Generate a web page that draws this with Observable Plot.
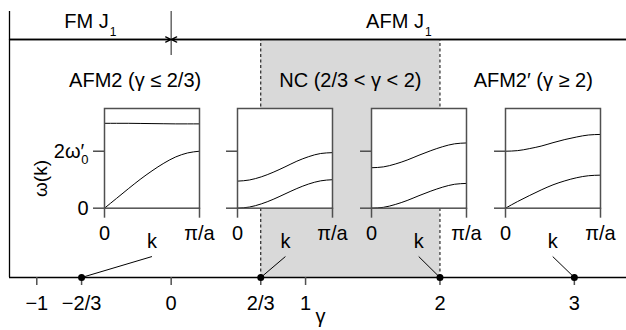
<!DOCTYPE html>
<html><head><meta charset="utf-8">
<script src="https://cdn.jsdelivr.net/npm/d3@7"></script>
<script src="https://cdn.jsdelivr.net/npm/@observablehq/plot@0.6"></script>
<style>
body{margin:0;background:#fff;}
#wrap{position:relative;width:626px;height:330px;overflow:hidden;background:#fff;}
#wrap svg{position:absolute;overflow:visible;background:transparent;}
</style></head><body><div id="wrap"></div>
<script>
// ---------- data ----------
const gammaTicks = [-1, -2/3, 0, 2/3, 1, 2, 3];
const gammaTickLabels = ["−1", "−2/3", "0", "2/3", "1", "2", "3"];
const fmAfmBoundary = 0;
const ncRange = [2/3, 2];
const regionLabels = ["FM J1", "AFM J1"];
const phaseTitles = ["AFM2 (γ ≤ 2/3)", "NC (2/3 < γ < 2)", "AFM2′ (γ ≥ 2)"];
const panelGammas = [-2/3, 2/3, 2, 3];
const yAxisTitle = "ω(k)";

// dispersion curves, k in units of π/a, ω in units of ω0′
const kFrac = [0, 0.125, 0.25, 0.375, 0.5, 0.625, 0.75, 0.875, 1];
const p1Lower = [0, 0.34, 0.68, 1.01, 1.31, 1.58, 1.80, 1.94, 2.0];
const p1Upper = [2.98, 2.98, 2.98, 2.975, 2.97, 2.965, 2.96, 2.96, 2.96];
const p2Lower = [0, 0.04, 0.15, 0.31, 0.5, 0.69, 0.85, 0.96, 1.0];
const p2Upper = [0.95, 0.99, 1.10, 1.26, 1.45, 1.65, 1.81, 1.92, 1.95];
const p3Lower = [0, 0.03, 0.13, 0.27, 0.44, 0.60, 0.74, 0.84, 0.87];
const p3Upper = [1.42, 1.45, 1.55, 1.69, 1.86, 2.02, 2.16, 2.26, 2.29];
const p4Lower = [0, 0.23, 0.44, 0.64, 0.82, 0.96, 1.07, 1.14, 1.16];
const p4Upper = [2.0, 2.02, 2.09, 2.18, 2.30, 2.41, 2.50, 2.57, 2.59];
const insetYTicks = [0, 2];
const insetYTickLabels = ["0", "2ω′0"];
const insetXTicks = [0, 1];
const insetXTickLabels = ["0", "π/a"];

// ---------- layout ----------
const FONT = '"Liberation Sans", Arial, Helvetica, sans-serif';
const FS = 20;
const GRAY = "#505050";
const X_DOMAIN = [-1.203, 3.388];
const panelCenters = [-0.143, 0.850, 1.842, 2.839];
const panels = [[p1Lower, p1Upper], [p2Lower, p2Upper], [p3Lower, p3Upper], [p4Lower, p4Upper]];
const mid = (a, b) => (a + b) / 2;
const regionCenters = [mid(X_DOMAIN[0], fmAfmBoundary), mid(fmAfmBoundary, X_DOMAIN[1])];
const titleCenters = [mid(X_DOMAIN[0], ncRange[0]), mid(ncRange[0], ncRange[1]), mid(ncRange[1], X_DOMAIN[1])];

const wrap = document.getElementById("wrap");

const main = Plot.plot({
  width: 626, height: 330,
  marginLeft: 9, marginRight: 0, marginTop: 39, marginBottom: 53,
  x: {domain: X_DOMAIN},
  y: {domain: [0, 1], axis: null},
  style: {fontFamily: FONT, fontSize: FS + "px", background: "transparent", color: "#000"},
  marks: [
    Plot.rect([ncRange], {x1: d => d[0], x2: d => d[1], y1: 0, y2: 1, fill: "#d9d9d9"}),
    Plot.ruleX(ncRange, {x: d => d, y1: 0, y2: 1, stroke: "#000", strokeWidth: 1, strokeDasharray: "3,2.5"}),
    Plot.ruleY([0, 1], {y: d => d, stroke: "#000", strokeWidth: 1.3}),
    Plot.ruleX([X_DOMAIN[0]], {x: d => d, y1: 0, y2: 1.118, stroke: "#000", strokeWidth: 1.3}),
    Plot.ruleX([fmAfmBoundary], {x: d => d, y1: 0.933, y2: 1.118, stroke: GRAY, strokeWidth: 1.3}),
    Plot.arrow([{a: X_DOMAIN[0]}, {a: X_DOMAIN[1]}], {x1: "a", x2: () => fmAfmBoundary, y1: () => 1, y2: () => 1, headLength: 7, headAngle: 50, strokeWidth: 1.3, stroke: "#000"}),
    Plot.axisX(gammaTicks, {tickFormat: d => gammaTickLabels[gammaTicks.indexOf(d)], tickSize: 8, tickPadding: 10, stroke: GRAY, strokeWidth: 1.5, fill: "#000", fontSize: FS, label: null}),
    Plot.link(panelGammas, {x1: (d, i) => panelCenters[i], y1: () => 0.088, x2: d => d, y2: () => 0, stroke: "#000", strokeWidth: 1}),
    Plot.dot(panelGammas, {x: d => d, y: () => 0, r: 3.5, fill: "#000", stroke: null}),
    Plot.text(panelGammas, {x: (d, i) => panelCenters[i], y: () => 0.149, text: () => "k", fontSize: FS}),
    Plot.text(regionLabels, {x: (d, i) => regionCenters[i], y: () => 1.077, text: d => d, fontSize: FS}),
    Plot.text(phaseTitles, {x: (d, i) => titleCenters[i], y: () => 0.829, text: d => d, fontSize: FS}),
    Plot.text(["γ"], {x: () => 1.111, y: () => -0.166, text: d => d, fontSize: FS}),
    Plot.text([yAxisTitle], {x: () => -0.9725, y: () => 0.416, text: d => d, rotate: -90, textAnchor: "middle", lineAnchor: "middle", fontSize: 19})
  ]
});
main.style.left = "0px"; main.style.top = "0px";
wrap.appendChild(main);

function subscripts(svg, full, base, sub, dy, dx, size) {
  d3.select(svg).selectAll("text").filter(function() { return this.textContent === full; }).each(function() {
    const t = d3.select(this);
    t.text(base);
    t.append("tspan").attr("dy", dy).attr("dx", dx).attr("font-size", size).text(sub);
  });
}
subscripts(main, "FM J1", "FM J", "1", 8, 1, 12);
subscripts(main, "AFM J1", "AFM J", "1", 8, 1, 12);

const xs = main.scale("x");
const FW = 95, FH = 99.7, FTOP = 108;
const mL = 80, mR = 30, mT = 10, mB = 50;

panels.forEach(([lower, upper], i) => {
  const series = [lower, upper].flatMap((vals, s) => vals.map((w, j) => ({k: kFrac[j], w, s})));
  const inset = Plot.plot({
    width: mL + FW + mR, height: mT + FH + mB,
    marginLeft: mL, marginRight: mR, marginTop: mT, marginBottom: mB,
    x: {domain: [0, 1]},
    y: {domain: [0, 3.5]},
    style: {fontFamily: FONT, fontSize: FS + "px", background: "transparent", color: "#000"},
    marks: [
      Plot.frame({fill: "#fff", stroke: null}),
      Plot.line(series, {x: "k", y: "w", z: "s", curve: "monotone-x", stroke: "#000", strokeWidth: 1}),
      Plot.frame({stroke: GRAY, strokeWidth: 1.5}),
      Plot.axisX(insetXTicks, {tickFormat: d => insetXTickLabels[insetXTicks.indexOf(d)], tickSize: 10, tickPadding: 8, stroke: GRAY, strokeWidth: 1.5, fill: "#000", fontSize: FS, label: null}),
      Plot.axisY(insetYTicks, {tickFormat: d => i === 0 ? insetYTickLabels[insetYTicks.indexOf(d)] : "", tickSize: 11, tickPadding: 5, stroke: GRAY, strokeWidth: 1.5, fill: "#000", fontSize: FS, label: null})
    ]
  });
  const frameLeft = xs.apply(panelCenters[i]) - FW / 2;
  inset.style.left = (frameLeft - mL) + "px";
  inset.style.top = (FTOP - mT) + "px";
  subscripts(inset, "2ω′0", "2ω′", "0", 6, -3, 13);
  wrap.appendChild(inset);
});
</script>
</body></html>
